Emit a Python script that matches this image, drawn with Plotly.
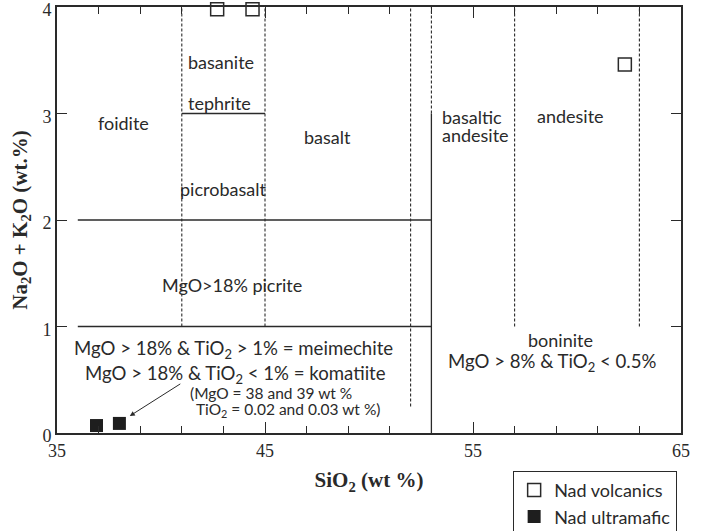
import plotly.graph_objects as go

# ---- data ----
volc_x = [42.7, 44.4, 62.3]
volc_y = [3.98, 3.98, 3.46]
ultra_x = [36.9, 38.0]
ultra_y = [0.07, 0.09]

solid_x = [[36, 53], [36, 53], [41, 45], [53, 53]]
solid_y = [[2, 2], [1, 1], [3, 3], [0, 3]]
dashed_x = [[41, 41], [45, 45], [52, 52], [53, 53], [57, 57], [63, 63]]
dashed_y = [[1, 4], [1, 4], [0.25, 4], [3, 4], [1, 4], [1, 4]]

# centred labels
label_text = ["basanite", "tephrite", "foidite", "basalt", "picrobasalt",
              "andesite", "MgO>18% picrite", "boninite"]
label_x = [42.9, 42.8, 38.2, 48.0, 43.0, 59.7, 43.4, 59.2]
label_y = [3.48, 3.10, 2.91, 2.78, 2.29, 2.98, 1.39, 0.87]

formula_text = ["MgO > 18% & TiO<sub>2</sub> > 1% = meimechite",
                "MgO > 18% & TiO<sub>2</sub> < 1% = komatiite",
                "MgO > 8% & TiO<sub>2</sub> < 0.5%"]
formula_x = [43.5, 43.6, 58.8]
formula_y = [0.78, 0.55, 0.66]

# left-anchored labels
left_text = ["basaltic", "andesite", "(MgO = 38 and 39 wt %",
             "TiO<sub>2</sub> = 0.02 and 0.03 wt %)"]
left_x = [53.40, 53.40, 41.30, 41.59]
left_y = [2.97, 2.80, 0.380, 0.212]
left_size = [18, 18, 15.5, 15.5]

arrow_tail = (41.0, 0.47)
arrow_head = (38.5, 0.16)

x_ticks = [35, 45, 55, 65]
y_ticks = [0, 1, 2, 3, 4]

INK = "#2a2a2a"
LABEL_FONT = "Lato"
SERIF = "Liberation Serif"

fig = go.Figure()
for xs, ys in zip(solid_x, solid_y):
    fig.add_trace(go.Scatter(x=xs, y=ys, mode="lines", showlegend=False,
                             line=dict(color=INK, width=1.3), hoverinfo="skip"))
for xs, ys in zip(dashed_x, dashed_y):
    fig.add_trace(go.Scatter(x=xs, y=ys, mode="lines", showlegend=False,
                             line=dict(color=INK, width=1.1, dash="3px,2px"), hoverinfo="skip"))

fig.add_trace(go.Scatter(x=volc_x, y=volc_y, mode="markers", name="Nad volcanics",
                         cliponaxis=False,
                         marker=dict(symbol="square-open", size=13, color=INK,
                                     line=dict(width=1.5, color=INK))))
fig.add_trace(go.Scatter(x=ultra_x, y=ultra_y, mode="markers", name="Nad ultramafic",
                         cliponaxis=False,
                         marker=dict(symbol="square", size=13, color="#1e1e1e")))

for t, x, y in zip(label_text, label_x, label_y):
    fig.add_annotation(x=x, y=y, text=t, showarrow=False, xref="x", yref="y",
                       font=dict(family=LABEL_FONT, size=18, color=INK))
for t, x, y in zip(formula_text, formula_x, formula_y):
    fig.add_annotation(x=x, y=y, text=t, showarrow=False, xref="x", yref="y",
                       font=dict(family=LABEL_FONT, size=18.6, color=INK))
for t, x, y, s in zip(left_text, left_x, left_y, left_size):
    fig.add_annotation(x=x, y=y, text=t, showarrow=False, xref="x", yref="y",
                       xanchor="left", font=dict(family=LABEL_FONT, size=s, color=INK))

fig.add_annotation(x=arrow_head[0], y=arrow_head[1], ax=arrow_tail[0], ay=arrow_tail[1],
                   xref="x", yref="y", axref="x", ayref="y", text="", showarrow=True,
                   arrowhead=2, arrowsize=1, arrowwidth=1, arrowcolor=INK)

fig.update_layout(
    width=705, height=531,
    margin=dict(l=57, r=24, t=7, b=98, autoexpand=False),
    plot_bgcolor="white", paper_bgcolor="white",
    showlegend=True,
    legend=dict(x=0.731, y=-0.089, xanchor="left", yanchor="top",
                bordercolor=INK, borderwidth=1, bgcolor="white",
                font=dict(family=LABEL_FONT, size=18, color=INK),
                tracegroupgap=0, itemwidth=30),
    xaxis=dict(range=[35, 65], tickvals=x_ticks, ticks="inside", ticklen=11,
               tickwidth=1.3, tickcolor=INK, automargin=False, ticklabeloverflow="allow",
               minor=dict(tick0=35, dtick=2, ticks="inside", ticklen=7, tickwidth=1.3, tickcolor=INK),
               showline=True, linewidth=2, linecolor=INK, mirror="ticks",
               showgrid=False, zeroline=False,
               tickfont=dict(family=SERIF, size=18, color=INK),
               title=dict(text="<b>SiO<sub>2</sub> (wt %)</b>", standoff=13,
                          font=dict(family=SERIF, size=21, color=INK))),
    yaxis=dict(range=[0, 4], tickvals=y_ticks, ticks="inside", ticklen=10,
               tickwidth=1.3, tickcolor=INK, automargin=False, ticklabeloverflow="allow",
               ticklabelshift=3,
               showline=True, linewidth=2, linecolor=INK, mirror="ticks",
               showgrid=False, zeroline=False,
               tickfont=dict(family=SERIF, size=18, color=INK),
               title=dict(text="<b>Na<sub>2</sub>O + K<sub>2</sub>O (wt.%)</b>", standoff=9,
                          font=dict(family=SERIF, size=21, color=INK))),
)

fig.write_html("out.html", config={"displayModeBar": False},
               post_script="document.body.style.margin='0';document.body.style.overflow='hidden';")
